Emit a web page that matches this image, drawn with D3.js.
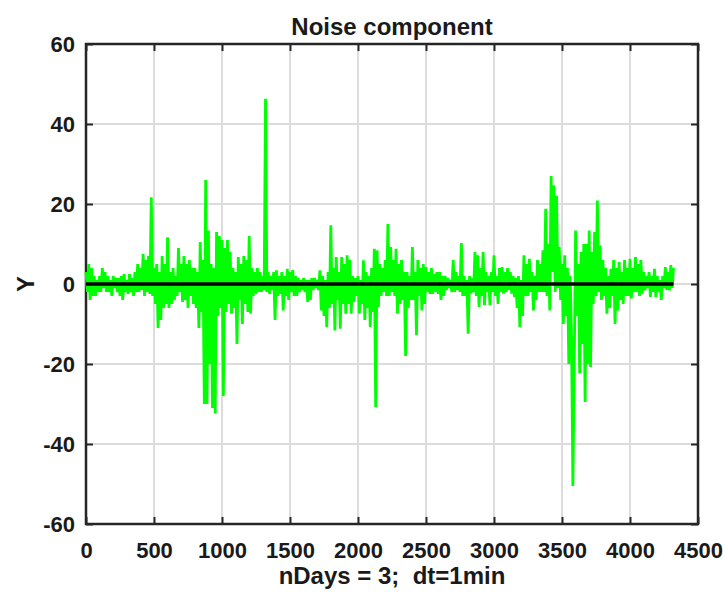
<!DOCTYPE html>
<html>
<head>
<meta charset="utf-8">
<script src="https://cdn.jsdelivr.net/npm/d3@7"></script>
<style>
  body { margin: 0; background: #fff; }
  text { font-family: "Liberation Sans", Arial, sans-serif; font-weight: bold; fill: #1a1a1a; }
</style>
</head>
<body>
<div id="chart"></div>
<script>
const stepMin = 10;
const noise = [
  3, -2, 5, -4, 4, -3, 2, -3, 1, -2, 2, -2, 4, -1, 3, -2, 2, -2, 1, -3, 2, -1, 1.5, -2,
  1.5, -3, 2, -4, 2.5, -2, 1, -2.5, 2.5, -2, 1.5, -3, 3, -2, 5, -2, 4, -1.5, 7.5, -3, 6, -2, 7, -2.5,
  21.7, -3, 4, -5, 5, -11, 3, -9, 7, -6, 5, -5, 11.7, -6, 3, -5, 4, -4, 2, -3, 9, -2, 5, -4.5,
  7, -4, 5, -6, 6, -3, 4, -5, 4, -6, 3, -11, 10.5, -7, 6, -30, 26, -30, 13.4, -20, 5, -31, 4, -32.4,
  13, -8, 12, -6, 11, -28, 9, -7, 11, -5, 8, -7.4, 4, -6, 3, -15, 6.75, -4, 5, -10, 7, -5, 6, -7,
  12, -7.4, 4, -3, 3, -2.5, 4, -2, 3, -2, 2, -1.5, 46.3, -2, 3, -2.5, 2, -1.5, 3, -9, 3.4, -3, 2, -2.5,
  3, -6.6, 2, -3, 3.8, -4, 3, -2, 3.5, -3, 2, -3, 1.5, -2, 1, -1.5, 1.5, -2, 1, -4.5, 1, -4, 1.5, -1.5,
  1.5, -1, 1, -1.5, 3.4, -6.6, 2, -8, 1, -10.75, 3, -6, 14.7, -5, 4, -11.6, 6.75, -4, 3, -11.2, 6.75, -5, 5, -7.4,
  7.2, -5, 6, -7.4, 2, -4.5, 1.5, -3, 2, -7.4, 1, -5, 5.9, -9, 3, -6, 2, -10.75, 4, -7, 8.8, -30.75, 8.4, -5.75,
  5, -3, 4, -2, 6, -3, 15, -3, 9.25, -2, 6, -3, 8.8, -7.4, 5, -5, 6, -4, 3, -18, 3, -6, 2, -4,
  9.25, -4, 3, -12.8, 6, -3, 4, -6.6, 5, -5, 4.25, -2, 3, -2.5, 4, -2.5, 2.5, -2, 3, -2.5, 3, -4, 2, -3,
  2, -1.5, 1.5, -1, 1, -2, 6, -2, 3, -1.5, 2, -2, 10.25, -3, 2, -3, 1, -12.4, 2, -2.4, 1.5, -2, 8, -3,
  7.2, -5.75, 4, -3, 8, -5.3, 3, -2, 2, -5.3, 3, -2, 7.2, -3, 2, -5, 4, -2, 4.25, -2.4, 3, -2, 4, -1.5,
  3, -2.4, 2, -3.2, 1.5, -6, 2, -10.75, 1, -8, 7.2, -3, 5, -3, 6.3, -2, 3, -6.6, 2, -4, 6, -2, 5, -2,
  8.4, -2, 18.8, -3, 10, -6.6, 27, 3, 24.7, -2, 22, -1, 9.25, -4, 5, -10, 7.2, -8, 4, -20, 2, -13, -50.5, -20,
  13.4, -8, 5, -22.4, 8, -15, 10, -29.5, 10, -20, 13.4, -20.75, 8, -5, 13, -3, 20.9, -2, 9.7, -4, 6, -3, 4, -7.4,
  2, -6, 3.8, -3, 6, -10, 4, -6.6, 5.5, -4, 3, -5, 6, -3, 4, -3, 6.3, -3.6, 4, -2, 6.75, -2, 5, -3,
  6, -2.4, 3, -1.6, 2, -1, 3, -3.25, 2, -2, 3.8, -3.3, 2, -2, 1, -4, 2, -1, 4.25, -1.5, 3, -1.6, 4.7, -1,
  4
];
const trendX = [0, 4320];
const trendY = [0, 0];
const xTicks = [0, 500, 1000, 1500, 2000, 2500, 3000, 3500, 4000, 4500];
const yTicks = [-60, -40, -20, 0, 20, 40, 60];

const width = 723, height = 592;
const mLeft = 86, mRight = 698, mTop = 44, mBottom = 524;

const svg = d3.select("#chart").append("svg")
  .attr("width", width)
  .attr("height", height);

const x = d3.scaleLinear().domain([0, 4500]).range([mLeft, mRight]);
const y = d3.scaleLinear().domain([-60, 60]).range([mBottom, mTop]);

// grid
svg.append("g")
  .selectAll("line")
  .data(xTicks.slice(1, -1))
  .enter().append("line")
    .attr("x1", d => x(d)).attr("x2", d => x(d))
    .attr("y1", mTop).attr("y2", mBottom)
    .attr("stroke", "#dcdcdc").attr("stroke-width", 2);
svg.append("g")
  .selectAll("line")
  .data(yTicks.slice(1, -1))
  .enter().append("line")
    .attr("x1", mLeft).attr("x2", mRight)
    .attr("y1", d => y(d)).attr("y2", d => y(d))
    .attr("stroke", "#dcdcdc").attr("stroke-width", 2);

// axes (ticks inside, mirrored on top/right)
const tickLen = 7;
const fmt = d => String(d);
svg.append("g")
  .attr("transform", "translate(0," + mBottom + ")")
  .call(d3.axisBottom(x).tickValues(xTicks).tickFormat(fmt).tickSizeInner(-tickLen).tickSizeOuter(0).tickPadding(18));
svg.append("g")
  .attr("transform", "translate(" + mLeft + ",0)")
  .call(d3.axisLeft(y).tickValues(yTicks).tickFormat(fmt).tickSizeInner(-tickLen).tickSizeOuter(0).tickPadding(11));
svg.append("g")
  .attr("transform", "translate(0," + mTop + ")")
  .call(d3.axisTop(x).tickValues(xTicks).tickSizeInner(-tickLen).tickSizeOuter(0).tickFormat(""));
svg.append("g")
  .attr("transform", "translate(" + mRight + ",0)")
  .call(d3.axisRight(y).tickValues(yTicks).tickSizeInner(-tickLen).tickSizeOuter(0).tickFormat(""));

svg.selectAll(".domain").remove();
svg.selectAll(".tick line").attr("stroke", "#262626").attr("stroke-width", 2);
svg.selectAll(".tick text").style("font-size", "22px").attr("fill", "#1a1a1a");

svg.append("rect")
  .attr("x", mLeft).attr("y", mTop)
  .attr("width", mRight - mLeft).attr("height", mBottom - mTop)
  .attr("fill", "none").attr("stroke", "#262626").attr("stroke-width", 2.5);

// noise series
const line = d3.line()
  .x((d, i) => x(i * stepMin))
  .y(d => y(d));

svg.append("path")
  .datum(noise)
  .attr("d", line)
  .attr("fill", "none")
  .attr("stroke", "#00ff00")
  .attr("stroke-width", 2.8)
  .attr("stroke-linejoin", "bevel");

svg.append("path")
  .datum(d3.zip(trendX, trendY))
  .attr("d", d3.line().x(d => x(d[0])).y(d => y(d[1])))
  .attr("stroke", "#000")
  .attr("stroke-width", 3.5);

// labels
svg.append("text")
  .attr("x", (mLeft + mRight) / 2).attr("y", 35)
  .attr("text-anchor", "middle")
  .style("font-size", "24px")
  .text("Noise component");

svg.append("text")
  .attr("x", (mLeft + mRight) / 2).attr("y", 584)
  .attr("text-anchor", "middle")
  .style("font-size", "24px")
  .style("white-space", "pre")
  .text("nDays = 3;  dt=1min");

svg.append("text")
  .attr("transform", "translate(34," + y(0) + ") rotate(-90)")
  .attr("text-anchor", "middle")
  .style("font-size", "24px")
  .text("Y");
</script>
</body>
</html>
